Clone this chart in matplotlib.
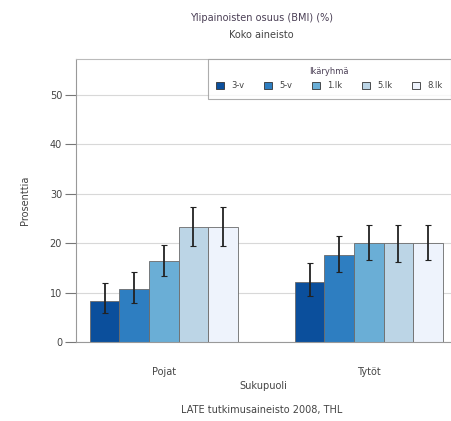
import matplotlib
matplotlib.use("Agg")
import matplotlib.pyplot as plt
import numpy as np

groups = ["Pojat", "Tytöt"]
age_groups = ["3-v", "5-v", "1.lk", "5.lk", "8.lk"]
values = {
    "3-v":  [8.3, 12.2],
    "5-v":  [10.8, 17.6],
    "1.lk": [16.4, 20.0],
    "5.lk": [23.3, 20.0],
    "8.lk": [23.3, 20.0],
}
lower = {
    "3-v":  [5.9, 9.3],
    "5-v":  [7.9, 14.2],
    "1.lk": [13.4, 16.6],
    "5.lk": [19.4, 16.2],
    "8.lk": [19.4, 16.6],
}
upper = {
    "3-v":  [12.0, 16.0],
    "5-v":  [14.2, 21.5],
    "1.lk": [19.6, 23.7],
    "5.lk": [27.3, 23.7],
    "8.lk": [27.3, 23.7],
}
colors = ["#0b4f9c", "#2e7ec1", "#6aaed6", "#bcd5e6", "#eef3fc"]

fig = plt.figure(figsize=(4.51, 4.21), dpi=100)
ax = fig.add_axes([0.1685, 0.1876, 0.8315, 0.6724])

tc = "#444444"
w = 0.144
x = np.arange(len(groups))
for i, ag in enumerate(age_groups):
    xs = x + (i - 2) * w
    v = np.array(values[ag])
    lo = v - np.array(lower[ag])
    hi = np.array(upper[ag]) - v
    ax.bar(xs, v, width=w, color=colors[i], edgecolor="#6a6a6a", linewidth=0.6,
           label=ag, zorder=2)
    ax.errorbar(xs, v, yerr=[lo, hi], fmt="none", ecolor="#222222",
                elinewidth=1.3, capsize=2.5, capthick=0.8, zorder=3)

ax.set_xlim(-0.428, 1.401)
ax.set_ylim(0, 57.3)
ax.set_yticks([0, 10, 20, 30, 40, 50])
ax.set_xticks(x)
ax.set_xticklabels(groups)
ax.yaxis.grid(True, color="#d8d8d8", linewidth=0.8, zorder=0)
ax.set_axisbelow(True)
for s in ["right"]:
    ax.spines[s].set_visible(False)
ax.spines["top"].set_color("#bbbbbb")
ax.spines["left"].set_color("#999999")
ax.spines["bottom"].set_color("#999999")
ax.spines["bottom"].set_linewidth(0.8)
ax.tick_params(axis="y", length=8, color="#777777", labelsize=7, labelcolor=tc, pad=2)
ax.tick_params(axis="x", length=0, labelsize=7, labelcolor=tc, pad=18)

ax.set_ylabel("Prosenttia", fontsize=7, color=tc, labelpad=14)
ax.set_xlabel("Sukupuoli", fontsize=7, color=tc, labelpad=3)

fig.text(0.58, 0.957, "Ylipainoisten osuus (BMI) (%)", ha="center", va="center",
         fontsize=7, color="#4a3f55")
fig.text(0.58, 0.918, "Koko aineisto", ha="center", va="center", fontsize=7, color=tc)
fig.text(0.58, 0.026, "LATE tutkimusaineisto 2008, THL", ha="center", va="center",
         fontsize=7, color=tc)

leg = ax.legend(title="Ikäryhmä", ncol=5, loc="upper right", bbox_to_anchor=(1.0, 1.0),
                fontsize=6, title_fontsize=6, frameon=True, fancybox=False,
                handlelength=0.9, handleheight=0.9, handletextpad=0.9,
                columnspacing=2.4, borderpad=1.0, labelspacing=0.6,
                borderaxespad=0)
leg.get_frame().set_edgecolor("#999999")
leg.get_frame().set_linewidth(0.8)
for t in leg.get_texts():
    t.set_color(tc)
leg.get_title().set_color("#4a3f55")
for h in leg.legend_handles:
    h.set_edgecolor("#333333")

fig.savefig("out.png", dpi=100)
